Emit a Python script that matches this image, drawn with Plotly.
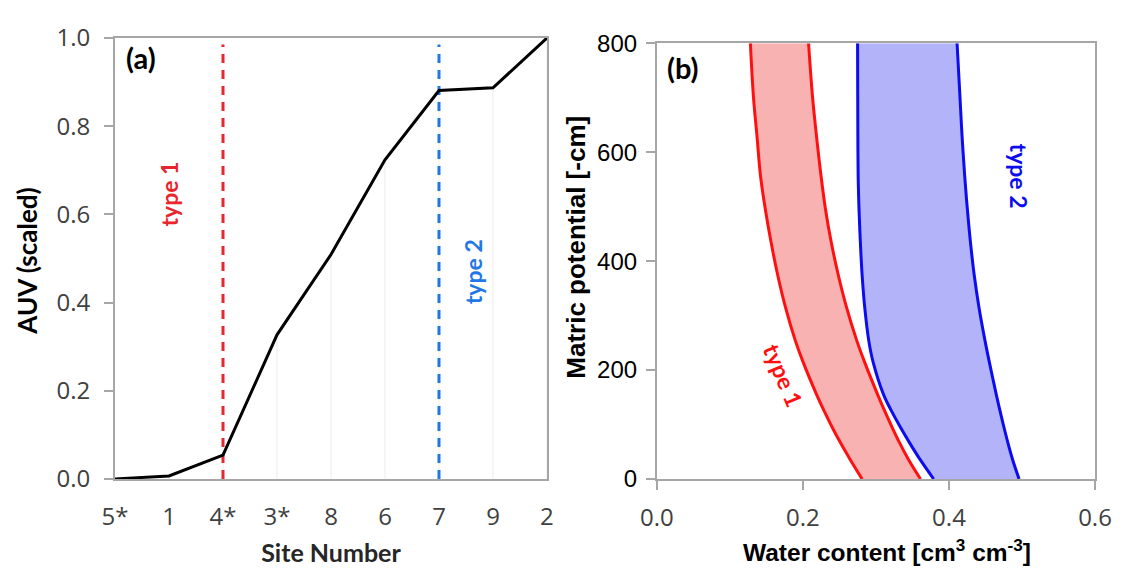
import plotly.graph_objects as go

# panel (a): scaled AUV per site, sites ordered by AUV
sites = ["5*", "1", "4*", "3*", "8", "6", "7", "9", "2"]
auv_scaled = [0.0, 0.007, 0.054, 0.327, 0.509, 0.724, 0.881, 0.887, 1.0]
type_sites = ["4*", "7"]

# panel (b): retention curve bands, matric potential [-cm] vs water content
matric = [0, 35, 65, 95, 125, 155, 215, 255, 315, 375, 435, 495, 555, 630, 705, 800]
type1_low = [0.281, 0.265, 0.252, 0.240, 0.229, 0.2187, 0.2001, 0.1893, 0.1761, 0.1653,
             0.1563, 0.1485, 0.142, 0.137, 0.132, 0.128]
type1_high = [0.361, 0.3449, 0.3329, 0.3221, 0.3119, 0.3023, 0.2843, 0.2735, 0.2597, 0.2483,
              0.2387, 0.2309, 0.2249, 0.2185, 0.2129, 0.2077]
type2_low = [0.379, 0.3608, 0.3467, 0.3335, 0.3212, 0.3104, 0.296, 0.290, 0.2846, 0.281,
             0.2786, 0.2768, 0.2756, 0.2752, 0.275, 0.2748]
type2_high = [0.496, 0.4873, 0.481, 0.4753, 0.4699, 0.4648, 0.4552, 0.4492, 0.4411, 0.4345,
              0.4294, 0.4252, 0.4216, 0.4179, 0.4149, 0.4111]

FRAME = "#a6a6a6"
RED_A, BLUE_A = "#e8262c", "#2277e6"
RED_B, BLUE_B = "#ff1010", "#0c0cee"
FONT_A = "Lato"
FONT_T = "Open Sans"
FONT_B = "Liberation Sans"

idx = list(range(len(sites)))

fig = go.Figure()

# faint drop lines under the curve
drop_x, drop_y = [], []
for i, v in zip(idx, auv_scaled):
    drop_x += [i, i, None]
    drop_y += [0, v, None]
fig.add_trace(go.Scatter(x=drop_x, y=drop_y, mode="lines",
                         line=dict(color="#ececec", width=1),
                         hoverinfo="skip", showlegend=False))

# dashed type markers
for s, col in zip(type_sites, [RED_A, BLUE_A]):
    i = sites.index(s)
    fig.add_trace(go.Scatter(x=[i, i], y=[0, 0.985], mode="lines",
                             line=dict(color=col, width=3, dash="9px,7px"),
                             showlegend=False))

fig.add_trace(go.Scatter(x=idx, y=auv_scaled, mode="lines",
                         line=dict(color="black", width=3),
                         showlegend=False))

# panel (b) bands: lower curve, then upper curve filled back to it
for lo, hi, line_col, fill_col in [(type1_low, type1_high, RED_B, "#f9b2b2"),
                                   (type2_low, type2_high, BLUE_B, "#b3b3fa")]:
    fig.add_trace(go.Scatter(x=lo, y=matric, mode="lines",
                             line=dict(color=line_col, width=3, shape="spline"),
                             showlegend=False, xaxis="x2", yaxis="y2"))
    fig.add_trace(go.Scatter(x=hi, y=matric, mode="lines",
                             line=dict(color=line_col, width=3, shape="spline"),
                             fill="tonextx", fillcolor=fill_col,
                             showlegend=False, xaxis="x2", yaxis="y2"))

annots = [
    dict(x=0.48, y=0.955, xref="x", yref="y", text="<b>(a)</b>",
         font=dict(family=FONT_A, size=29, color="black")),
    dict(x=1.0, y=0.645, xref="x", yref="y", text="<b>type 1</b>", textangle=-90,
         font=dict(family=FONT_A, size=23, color=RED_A)),
    dict(x=6.62, y=0.47, xref="x", yref="y", text="<b>type 2</b>", textangle=-90,
         font=dict(family=FONT_A, size=23, color=BLUE_A)),
    dict(x=0.036, y=756, xref="x2", yref="y2", text="<b>(b)</b>",
         font=dict(family=FONT_A, size=29, color="black")),
    dict(x=0.174, y=190, xref="x2", yref="y2", text="<b>type 1</b>", textangle=67,
         font=dict(family=FONT_A, size=23, color=RED_B)),
    dict(x=0.496, y=557, xref="x2", yref="y2", text="<b>type 2</b>", textangle=90,
         font=dict(family=FONT_A, size=23, color=BLUE_B)),
    # axis titles placed by hand
    dict(x=-0.0901, y=0.4945, xref="paper", yref="paper", text="<b>AUV (scaled)</b>",
         textangle=-90, font=dict(family=FONT_A, size=26, color="black")),
    dict(x=0.4709, y=0.5255, xref="paper", yref="paper", text="<b>Matric potential [-cm]</b>",
         textangle=-90, font=dict(family=FONT_B, size=26, color="black")),
    dict(x=0.7878, y=-0.162, xref="paper", yref="paper",
         text="<b>Water content [cm<sup>3</sup> cm<sup>-3</sup>]</b>",
         font=dict(family=FONT_B, size=24.5, color="black")),
]
for a in annots:
    a["showarrow"] = False
    a["xanchor"] = "center"
    a["yanchor"] = "middle"
fig.update_layout(annotations=annots)

# page body adds 8px, so the figure is laid out 8px smaller
fig.update_layout(
    width=1123, height=568,
    margin=dict(l=107, r=36, t=20, b=97),
    plot_bgcolor="white", paper_bgcolor="white",
    xaxis=dict(domain=[0, 0.4408], range=[0, len(sites) - 1],
               tickvals=idx, ticktext=sites, ticks="",
               showgrid=False, zeroline=False,
               showline=True, mirror=True, linecolor=FRAME, linewidth=2,
               tickfont=dict(family=FONT_T, size=24, color="#404040"),
               ticklabelstandoff=15,
               title=dict(text="<b>Site Number</b>", standoff=14,
                          font=dict(family=FONT_A, size=25, color="#262626"))),
    yaxis=dict(domain=[0, 1.0], range=[0, 1], dtick=0.2, tickformat=".1f",
               ticks="outside", ticklen=9, tickcolor=FRAME, tickwidth=1.5,
               showgrid=False, zeroline=False,
               showline=True, mirror=True, linecolor=FRAME, linewidth=2,
               tickfont=dict(family=FONT_T, size=24, color="#404040"),
               ticklabelstandoff=9),
    xaxis2=dict(domain=[0.553, 1.0], range=[0, 0.6], dtick=0.2, tickformat=".1f",
                anchor="y2",
                ticks="outside", ticklen=9, tickcolor=FRAME, tickwidth=1.5,
                showgrid=False, zeroline=False,
                showline=True, mirror=True, linecolor=FRAME, linewidth=2,
                tickfont=dict(family=FONT_T, size=24, color="#404040"),
                ticklabelstandoff=7),
    yaxis2=dict(domain=[0, 0.988], range=[0, 800], dtick=200,
                anchor="x2",
                ticks="outside", ticklen=9, tickcolor=FRAME, tickwidth=1.5,
                showgrid=False, zeroline=False,
                showline=True, mirror=True, linecolor=FRAME, linewidth=2,
                tickfont=dict(family=FONT_B, size=24, color="black"),
                ticklabelstandoff=4),
)

fig.write_html("out.html")
